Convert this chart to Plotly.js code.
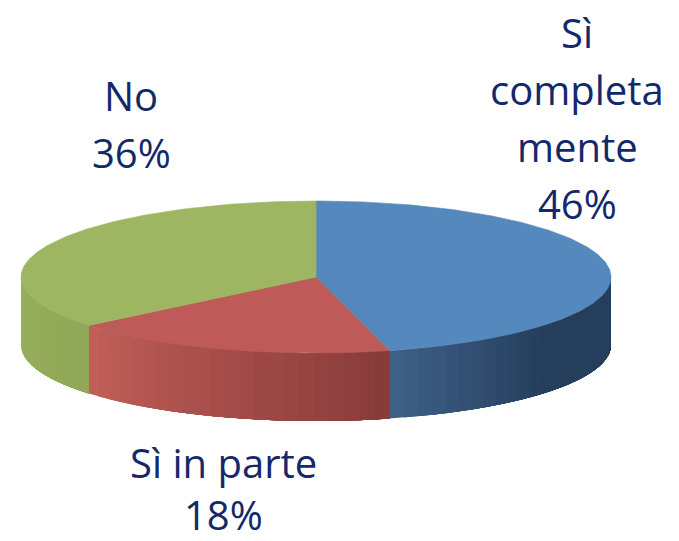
<!DOCTYPE html>
<html>
<head>
<meta charset="utf-8">
<script src="https://cdn.plot.ly/plotly-3.0.1.min.js"></script>
<style>html,body{margin:0;padding:0;background:#fff;}#chart{width:679px;height:541px;}</style>
</head>
<body>
<div id="chart"></div>
<script>
// ---- data ----
const categories = ['Sì completamente', 'Sì in parte', 'No'];
const values = [46, 18, 36];
const labelLines = [['Sì', 'completa', 'mente'], ['Sì in parte'], ['No']];

// ---- style ----
const topColors = ['#5589BE', '#BE5B58', '#9EB562'];
const sideColors = [['#3F6088', '#253E5C'], ['#C25F59', '#873A3A'], ['#98B05C', '#90A857']];
const labelPos = [{x: 577, y: 32, gap: 57}, {x: 223, y: 462, gap: 52}, {x: 131, y: 95, gap: 57}];
const textColor = '#13296A';

const cx = 316, cy = 277, rx = 295, ry = 76, depth = 68, startAngle = 90;

function pt(deg, dy) {
  const r = deg * Math.PI / 180;
  return [cx + rx * Math.cos(r), cy - ry * Math.sin(r) + (dy || 0)];
}
function hex2rgb(h) { return [1, 3, 5].map(i => parseInt(h.substr(i, 2), 16)); }
function mix(a, b, t) {
  const A = hex2rgb(a), B = hex2rgb(b);
  return 'rgb(' + A.map((v, i) => Math.round(v + (B[i] - v) * t)).join(',') + ')';
}

const total = values.reduce((s, v) => s + v, 0);
const traces = [];
const annotations = [];
let cum = 0;
values.forEach((v, i) => {
  const a0 = startAngle - cum / total * 360;
  const a1 = a0 - v / total * 360;
  cum += v;
  // side walls (front half: angles in [-180,0] mod 360)
  for (let k = -2; k <= 1; k++) {
    const lo = Math.max(a1, -180 + 360 * k), hi = Math.min(a0, 0 + 360 * k);
    if (hi - lo <= 0.01) continue;
    const n = Math.max(1, Math.ceil((hi - lo) / 3));
    for (let s = n - 1; s >= 0; s--) {
      const l = hi - (hi - lo) * (s + 1) / n;
      const mid = hi - (hi - lo) * (s + 0.5) / n;
      const xs = [], ys = [];
      const m = Math.max(4, Math.ceil((hi - l) / 1));
      for (let j = 0; j <= m; j++) { const p = pt(hi - (hi - l) * j / m); xs.push(p[0]); ys.push(p[1]); }
      for (let j = m; j >= 0; j--) { const p = pt(hi - (hi - l) * j / m, depth); xs.push(p[0]); ys.push(p[1]); }
      const tpos = (hi - mid) / (hi - lo);
      let t = 1 - tpos;
      if (i === 0) t = Math.min(1, t * 2.2);
      const col = mix(sideColors[i][0], sideColors[i][1], t);
      traces.push({type: 'scatter', mode: 'lines', x: xs, y: ys, fill: 'toself', fillcolor: col,
        line: {width: 0}, hoverinfo: 'skip', showlegend: false});
    }
  }
  // top face
  const xs = [cx], ys = [cy];
  const n = Math.ceil((a0 - a1) / 1);
  for (let j = 0; j <= n; j++) { const p = pt(a0 - (a0 - a1) * j / n); xs.push(p[0]); ys.push(p[1]); }
  xs.push(cx); ys.push(cy);
  traces.push({type: 'scatter', mode: 'lines', x: xs, y: ys, fill: 'toself', fillcolor: topColors[i],
    line: {color: topColors[i], width: 0.6}, hoverinfo: 'skip', showlegend: false, name: categories[i]});
  // labels
  const lines = labelLines[i].concat([Math.round(v / total * 100) + '%']);
  lines.forEach((t, j) => {
    annotations.push({x: labelPos[i].x, y: labelPos[i].y + j * labelPos[i].gap, xref: 'x', yref: 'y',
      text: t, showarrow: false, xanchor: 'center', yanchor: 'middle',
      font: {family: 'Open Sans, sans-serif', size: 40, color: textColor}});
  });
});

const layout = {
  width: 679, height: 541,
  margin: {l: 0, r: 0, t: 0, b: 0},
  paper_bgcolor: '#ffffff', plot_bgcolor: '#ffffff',
  xaxis: {range: [0, 679], visible: false, fixedrange: true},
  yaxis: {range: [541, 0], visible: false, fixedrange: true},
  annotations: annotations,
  showlegend: false
};
Plotly.newPlot('chart', traces, layout, {displayModeBar: false, staticPlot: true});
</script>
</body>
</html>
